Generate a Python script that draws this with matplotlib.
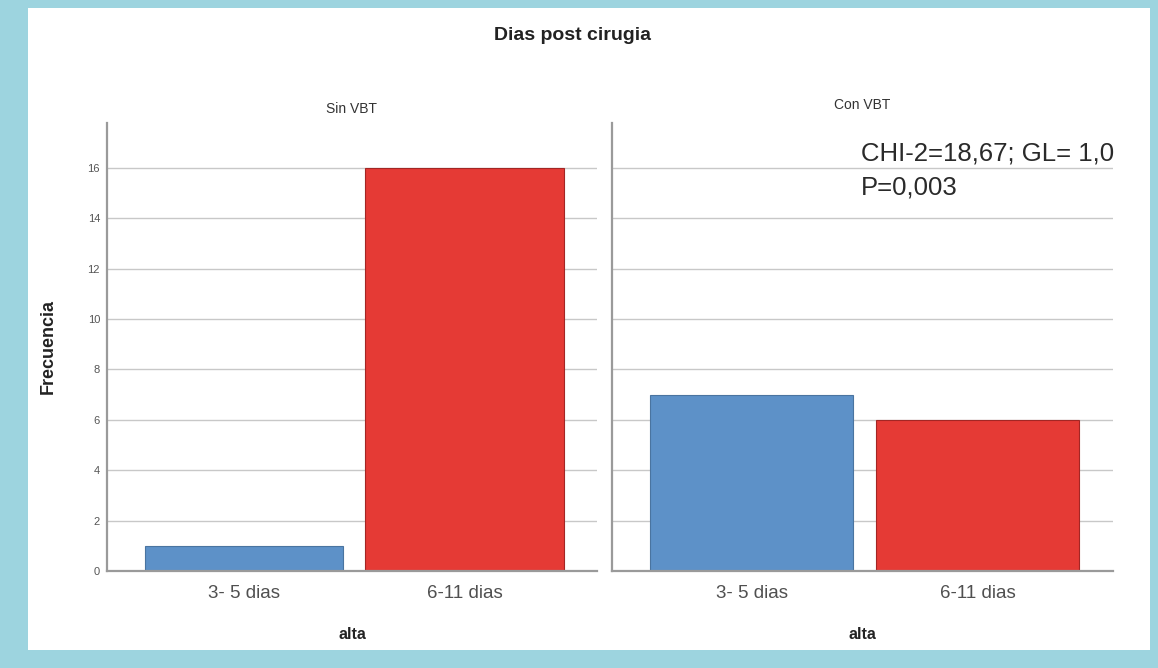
import numpy as np
import matplotlib
matplotlib.use("Agg")
import matplotlib.pyplot as plt
from matplotlib.patches import Rectangle

# data
categories = ["3- 5 dias", "6-11 dias"]
sin_vbt = [1, 16]
con_vbt = [7, 6]
panel_titles = ["Sin VBT", "Con VBT"]
y_ticks = [0, 2, 4, 6, 8, 10, 12, 14, 16]
stats_lines = ["CHI-2=18,67; GL= 1,0", "P=0,003"]

bar_colors = ["#5d91c8", "#e53a35"]
edge_colors = ["#4a74a0", "#a32624"]
frame_color = "#9dd4df"
grid_color = "#c8c8c8"
axis_color = "#9a9a9a"

plt.rcParams['font.family'] = ['Liberation Sans', 'DejaVu Sans']

fig = plt.figure(figsize=(11.58, 6.68), dpi=100)
fig.patch.set_facecolor(frame_color)
W, H = 1158, 668
# white card inside the blue frame
fig.patches.append(Rectangle((28 / W, (H - 650) / H), (1150 - 28) / W, (650 - 8) / H,
                             transform=fig.transFigure, facecolor="white",
                             edgecolor="none", zorder=-10))

def px_axes(x0, x1, ytop, ybot):
    return fig.add_axes([x0 / W, (H - ybot) / H, (x1 - x0) / W, (ybot - ytop) / H])

ymax = 16 + (168 - 123) / 25.2
axes = [px_axes(107, 597, 123, 571), px_axes(612, 1113, 123, 571)]
x = np.arange(len(categories))

for i, (ax, vals) in enumerate(zip(axes, [sin_vbt, con_vbt])):
    ax.set_facecolor("none")
    for yy in y_ticks[1:]:
        ax.axhline(yy, color=grid_color, lw=1.0, zorder=1)
    ax.bar(x, vals, width=0.9, color=bar_colors, edgecolor=edge_colors,
           linewidth=0.8, zorder=2)
    ax.set_xlim(-0.62, 1.6)
    ax.set_ylim(0, ymax)
    for s in ["top", "right"]:
        ax.spines[s].set_visible(False)
    for s in ["left", "bottom"]:
        ax.spines[s].set_color(axis_color)
        ax.spines[s].set_linewidth(1.6)
    ax.set_xticks(x)
    ax.set_xticklabels(categories, fontsize=13.5, color="#505050")
    ax.tick_params(axis="x", length=0, pad=10)
    ax.set_xlabel("alta", fontsize=11.5, fontweight="bold", color="#222222", labelpad=18)
    ax.set_title(panel_titles[i], fontsize=10, color="#333333", pad=7 if i == 0 else 10)
    ax.set_yticks(y_ticks)
    if i == 0:
        ax.set_yticklabels([str(t) for t in y_ticks], fontsize=8, color="#555555")
        ax.tick_params(axis="y", length=0, pad=5)
        ax.set_ylabel("Frecuencia", fontsize=13, fontweight="bold", color="#222222")
        ax.yaxis.set_label_coords(-0.102, 0.5)
    else:
        ax.set_yticklabels([])
        ax.tick_params(axis="y", length=0)

# chi-square note, placed by pixel baselines
for line, base in zip(stats_lines, [160, 195]):
    fig.text(861 / W, 1 - base / H, line, fontsize=18.5, color="#2a2a2a",
             ha="left", va="baseline")

fig.text(572 / W, 1 - 36 / H, "Dias post cirugia", fontsize=14, fontweight="bold",
         color="#222222", ha="center", va="center")

fig.savefig("out.png", dpi=100, facecolor=fig.get_facecolor())
